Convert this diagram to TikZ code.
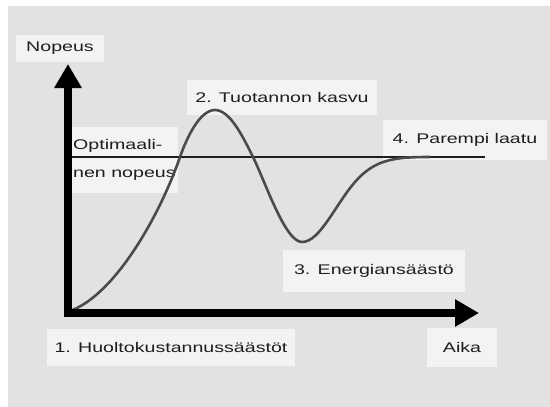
\documentclass[tikz,border=0pt]{standalone}
\usepackage{fontspec}
\setmainfont{Liberation Sans}[FakeStretch=1.4]
\usetikzlibrary{arrows.meta}
\definecolor{bggray}{RGB}{226,226,226}
\definecolor{boxgray}{RGB}{243,243,243}
\definecolor{curvegray}{RGB}{75,75,75}
\definecolor{txtgray}{RGB}{30,30,30}

\begin{document}
\begin{tikzpicture}[x=1pt,y=-1pt,
  lbl/.style={fill=boxgray,text=txtgray,font=\fontsize{14}{17}\selectfont,inner xsep=8pt,minimum height=36pt},
  axis/.style={line width=7.5pt,line join=miter,{Triangle[length=24pt,width=26pt]}-{Triangle[length=24pt,width=26pt]}},
  optline/.style={line width=2.4pt,txtgray},
  curve/.style={line width=2.6pt,curvegray}]
\path[use as bounding box] (0,0) rectangle (550,407);
\fill[white] (0,0) rectangle (550,407);
\fill[bggray] (8,6) rectangle (550,407);

\node[lbl,minimum height=27pt,inner xsep=10pt] (vlabel) at (60,48) {Nopeus};
\node[lbl,minimum height=35pt] (peak) at (282,97) {2. Tuotannon kasvu};
\node[lbl,anchor=west,inner xsep=2pt,minimum height=66pt,align=left,font=\fontsize{14}{28}\selectfont] (optlbl) at (71,160) {Optimaali-\\nen nopeus};
\node[lbl,minimum height=40pt,inner xsep=10pt] (best) at (465,140) {4. Parempi laatu};
\node[lbl,minimum height=42pt,inner xsep=11pt] (saving) at (374,271) {3. Energiansäästö};
\node[lbl,minimum height=37pt] (maint) at (171,347) {1. Huoltokustannussäästöt};
\node[lbl,minimum height=39pt,minimum width=70pt] (tlabel) at (462,347) {Aika};

\coordinate (O) at (68,313);
\coordinate (ytip) at (68,64);
\coordinate (xtip) at (479,313);
\coordinate (optL) at (72,157);
\coordinate (optR) at (485,157);

\draw[optline] (optL) -- (optR);
\draw[curve] (70,311) .. controls (115,295) and (160,215) .. (180,157)
  .. controls (187,137) and (200,110) .. (215,110)
  .. controls (230,110) and (243,137) .. (253,157)
  .. controls (265,181) and (285,242) .. (302,242)
  .. controls (320,242) and (335,205) .. (355,182)
  .. controls (375,159) and (395,157) .. (430,157);
\draw[axis] (ytip) -- (O) -- (xtip);
\end{tikzpicture}
\end{document}
